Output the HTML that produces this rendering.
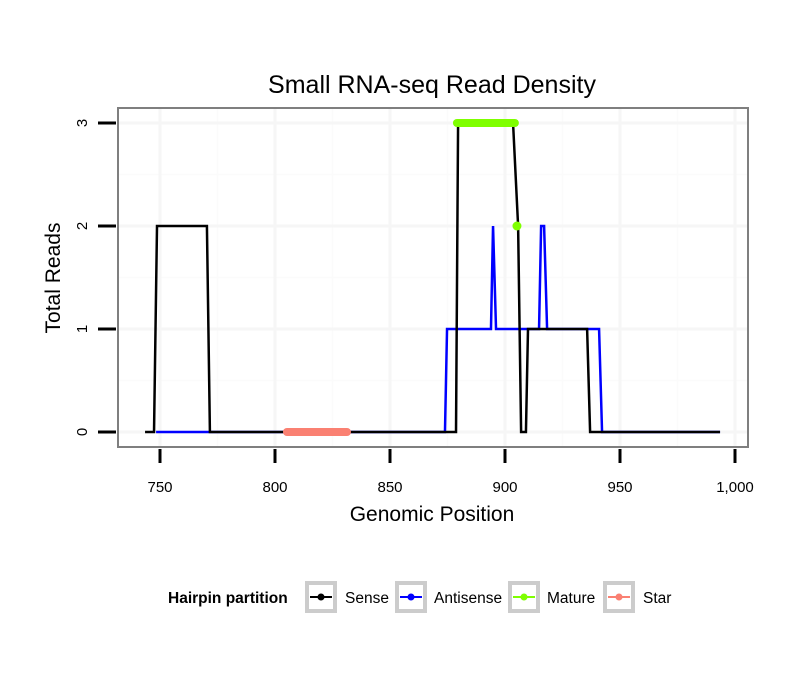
<!DOCTYPE html>
<html><head><meta charset="utf-8"><style>
body{margin:0;background:#fff;}
svg text{font-family:"Liberation Sans",sans-serif;}
</style></head><body>
<svg id="chart" width="810" height="690" xmlns="http://www.w3.org/2000/svg">
<rect width="810" height="690" fill="#fff"/>
<text x="432" y="93" font-size="25" text-anchor="middle">Small RNA-seq Read Density</text>
<g id="grid"></g>
<g id="series"></g>
<rect x="118" y="108" width="630" height="339" fill="none" stroke="#7f7f7f" stroke-width="2"/>
<g id="axes"></g>
<text x="432" y="521" font-size="21" text-anchor="middle">Genomic Position</text>
<text transform="translate(60,278) rotate(-90)" font-size="21" text-anchor="middle">Total Reads</text>
<g>
<text x="168" y="603" font-size="15.5" font-weight="bold">Hairpin partition</text>
<g>
<rect x="307" y="583" width="28" height="28" fill="#fff" stroke="#cccccc" stroke-width="4"/>
<line x1="310" y1="597" x2="332" y2="597" stroke="#000" stroke-width="2"/><circle cx="321" cy="597" r="3.5" fill="#000"/>
<text x="345" y="603" font-size="15.5">Sense</text></g>
<g>
<rect x="397" y="583" width="28" height="28" fill="#fff" stroke="#cccccc" stroke-width="4"/>
<line x1="400" y1="597" x2="422" y2="597" stroke="#0000ff" stroke-width="2"/><circle cx="411" cy="597" r="3.5" fill="#0000ff"/>
<text x="434" y="603" font-size="15.5">Antisense</text></g>
<g>
<rect x="510" y="583" width="28" height="28" fill="#fff" stroke="#cccccc" stroke-width="4"/>
<line x1="513" y1="597" x2="535" y2="597" stroke="#7fff00" stroke-width="2"/><circle cx="524" cy="597" r="3.5" fill="#7fff00"/>
<text x="547" y="603" font-size="15.5">Mature</text></g>
<g>
<rect x="605" y="583" width="28" height="28" fill="#fff" stroke="#cccccc" stroke-width="4"/>
<line x1="608" y1="597" x2="630" y2="597" stroke="#fa8072" stroke-width="2"/><circle cx="619" cy="597" r="3.5" fill="#fa8072"/>
<text x="643" y="603" font-size="15.5">Star</text></g>
</g>
</svg>
<script>
const xTicks=[750,800,850,900,950,1000];
const xTickLabels=["750","800","850","900","950","1,000"];
const yTicks=[0,1,2,3];
const yTickLabels=["0","1","2","3"];
const senseX=[743.5,747.4,748.7,770.4,771.7,878.7,879.6,903.5,905.7,907,909.1,910,935.7,937,993.5];
const senseY=[0,0,2,2,0,0,3,3,2,0,0,1,1,0,0];
const antiX=[748.3,873.9,874.8,893.9,894.8,896.1,914.8,915.7,917,918.3,940.9,942.2,993.5];
const antiY=[0,0,1,1,2,1,1,2,2,1,1,0,0];
const matureX=[879.1,904.3];
const matureY=[3,3];
const maturePointX=[905.2];
const maturePointY=[2];
const starX=[805.2,831.3];
const starY=[0,0];

const NS="http://www.w3.org/2000/svg";
const xs=v=>160+(v-750)*2.3;
const ys=v=>432-v*103;
function mk(tag,attrs,parent){const e=document.createElementNS(NS,tag);for(const k in attrs)e.setAttribute(k,attrs[k]);parent.appendChild(e);return e;}
const grid=document.getElementById('grid'),ser=document.getElementById('series'),axes=document.getElementById('axes');
mk('rect',{x:118,y:108,width:630,height:339,fill:'#fff'},grid);
for(let i=0;i<xTicks.length-1;i++){const m=(xTicks[i]+xTicks[i+1])/2;const l=mk('line',{x1:xs(m),x2:xs(m),y1:108,y2:447,stroke:'#fbfbfb','stroke-width':1.5},grid);}
for(let i=0;i<yTicks.length-1;i++){const m=(yTicks[i]+yTicks[i+1])/2;const l=mk('line',{x1:118,x2:748,y1:ys(m),y2:ys(m),stroke:'#fbfbfb','stroke-width':1.5},grid);}
xTicks.forEach((t,i)=>{
 const g=mk('line',{x1:xs(t),x2:xs(t),y1:108,y2:447,stroke:'#f6f6f6','stroke-width':3},grid);
 
 
 const tk=mk('line',{x1:xs(t),x2:xs(t),y1:449,y2:463,stroke:'#000','stroke-width':3},axes);
 
 
 const tx=mk('text',{x:xs(t),y:492,'font-size':15,'text-anchor':'middle'},axes);tx.textContent=xTickLabels[i];
 
 
});
yTicks.forEach((t,i)=>{
 const g=mk('line',{x1:118,x2:748,y1:ys(t),y2:ys(t),stroke:'#f6f6f6','stroke-width':3},grid);
 
 
 const tk=mk('line',{x1:98,x2:116,y1:ys(t),y2:ys(t),stroke:'#000','stroke-width':3},axes);
 
 
 const tx=mk('text',{transform:`translate(87,${ys(t)}) rotate(-90)`,'font-size':15,'text-anchor':'middle'},axes);tx.textContent=yTickLabels[i];
 
 
});
function pts(X,Y){return X.map((x,i)=>xs(x)+','+ys(Y[i])).join(' ');}
const a=mk('polyline',{points:pts(antiX,antiY),fill:'none',stroke:'#0000ff','stroke-width':2.5},ser);


const s=mk('polyline',{points:pts(senseX,senseY),fill:'none',stroke:'#000','stroke-width':2.5},ser);


const st=mk('polyline',{points:pts(starX,starY),fill:'none',stroke:'#fa8072','stroke-width':8,'stroke-linecap':'round'},ser);


const mt=mk('polyline',{points:pts(matureX,matureY),fill:'none',stroke:'#7fff00','stroke-width':8,'stroke-linecap':'round'},ser);


maturePointX.forEach((x,i)=>{const c=mk('circle',{cx:xs(x),cy:ys(maturePointY[i]),r:4.5,fill:'#7fff00'},ser);
 
 });
</script>
</body></html>
